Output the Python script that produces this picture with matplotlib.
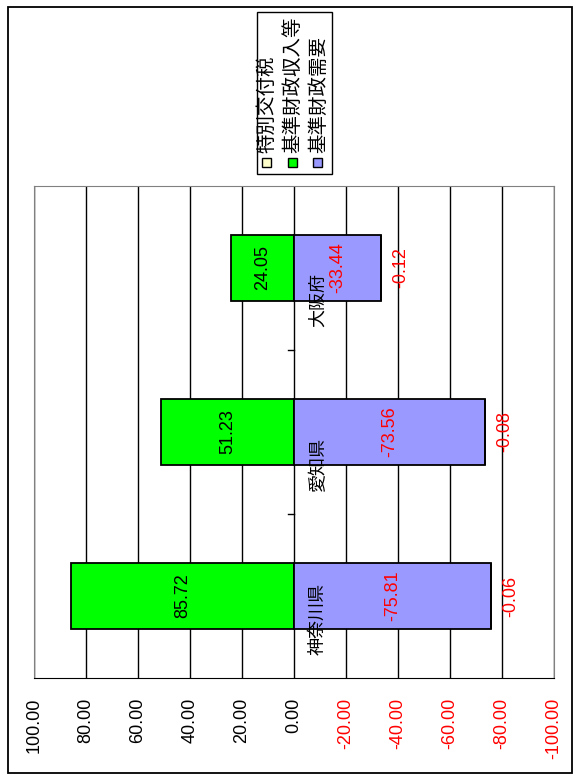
import matplotlib
matplotlib.use('Agg')
import matplotlib.pyplot as plt
from matplotlib.patches import Rectangle

plt.rcParams['font.family'] = ['Liberation Sans', 'Noto Sans CJK JP', 'DejaVu Sans']

# data (bottom to top in the rotated picture)
prefs = ['神奈川県', '愛知県', '大阪府']
revenue = [85.72, 51.23, 24.05]        # 基準財政収入等
demand = [-75.81, -73.56, -33.44]      # 基準財政需要
special = [-0.06, -0.08, -0.12]        # 特別交付税
series_names = ['特別交付税', '基準財政収入等', '基準財政需要']
series_colors = ['#FFFFCC', '#00FF00', '#9999FF']
ticks = [100, 80, 60, 40, 20, 0, -20, -40, -60, -80, -100]

fig = plt.figure(figsize=(5.74, 7.76), dpi=100)
ax = fig.add_axes([34 / 574, 98 / 776, 520 / 574, 492 / 776])

y = list(range(len(prefs)))
h = 0.40
ax.barh(y, revenue, height=h, color=series_colors[1], edgecolor='black', linewidth=1.3, zorder=3)
ax.barh(y, demand, height=h, color=series_colors[2], edgecolor='black', linewidth=1.3, zorder=3)
ax.barh(y, special, left=demand, height=h, color=series_colors[0], edgecolor='black', linewidth=1.3, zorder=3)

ax.set_xlim(100, -100)
ax.set_ylim(-0.5, len(prefs) - 0.5)
ax.set_xticks(ticks)
ax.set_xticklabels(['%.2f' % t for t in ticks], rotation=90, va='top', fontsize=13)
for lab, t in zip(ax.get_xticklabels(), ticks):
    lab.set_color('red' if t < 0 else 'black')
ax.tick_params(axis='x', length=0, pad=14)
ax.set_yticks([])
ax.grid(axis='x', color='black', linewidth=1, zorder=1)
for s in ['top', 'left', 'right']:
    ax.spines[s].set_color('#808080')
ax.spines['bottom'].set_color('black')

# category tick marks on the zero axis
for b in [0.5, 1.5]:
    ax.plot([0, 2.4], [b, b], color='black', linewidth=1, zorder=2)

# data labels
for i in range(len(prefs)):
    ax.text(revenue[i] / 2, i, '%.2f' % revenue[i], rotation=90, ha='center', va='center',
            fontsize=13, color='black', zorder=5)
    ax.text(demand[i] / 2, i, '%.2f' % demand[i], rotation=90, ha='center', va='center',
            fontsize=13, color='red', zorder=5)
    ax.annotate('%.2f' % special[i], (demand[i] + special[i], i), xytext=(8, 0),
                textcoords='offset points', rotation=90, ha='left', va='center',
                fontsize=13, color='red', zorder=5)
    ax.text(-6, i - 0.36, prefs[i], rotation=90, ha='left', va='bottom',
            fontsize=13, color='black', zorder=5)

# legend drawn rotated
fig.patches.append(Rectangle((257 / 574, 1 - 174 / 776), 75 / 574, 162 / 776,
                             transform=fig.transFigure, facecolor='white',
                             edgecolor='black', linewidth=1))
for k, (name, col) in enumerate(zip(series_names, series_colors)):
    x0 = 262 + k * 25.5
    fig.patches.append(Rectangle((x0 / 574, 1 - 167 / 776), 9 / 574, 9 / 776,
                                 transform=fig.transFigure, facecolor=col,
                                 edgecolor='black', linewidth=1))
    fig.text((x0 + 5.5) / 574, 1 - 153 / 776, name, rotation=90, ha='center', va='bottom',
             fontsize=14)

# outer chart frame
fig.patches.append(Rectangle((8 / 574, 3 / 776), 564 / 574, 766 / 776,
                             transform=fig.transFigure, fill=False,
                             edgecolor='black', linewidth=1.3))

fig.savefig('out.png', dpi=100)
